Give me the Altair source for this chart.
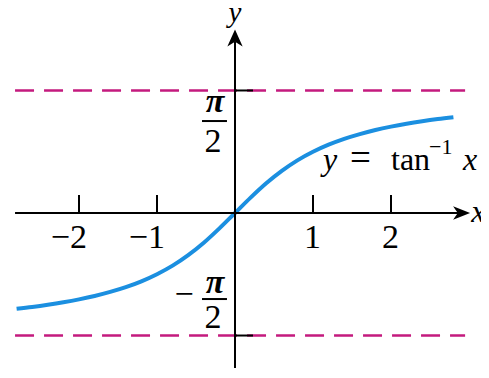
import math
import altair as alt
import pandas as pd

# ---- data ----
curve_x = [-2.8, -2.6, -2.4, -2.2, -2.0, -1.8, -1.6, -1.4, -1.2, -1.0, -0.8, -0.6, -0.4, -0.2,
           0.0, 0.2, 0.4, 0.6, 0.8, 1.0, 1.2, 1.4, 1.6, 1.8, 2.0, 2.2, 2.4, 2.6, 2.8]
curve_y = [-1.228, -1.204, -1.176, -1.144, -1.107, -1.064, -1.012, -0.951, -0.876, -0.785,
           -0.675, -0.540, -0.381, -0.197, 0.0, 0.197, 0.381, 0.540, 0.675, 0.785, 0.876,
           0.951, 1.012, 1.064, 1.107, 1.144, 1.176, 1.204, 1.228]
asymptote_y = [math.pi / 2, -math.pi / 2]
x_tick_values = [-2, -1, 1, 2]
x_tick_labels = ["\u22122", "\u22121", "1", "2"]
y_tick_values = [math.pi / 2, -math.pi / 2]

FONT = "Liberation Serif"
BLUE = "#1b8fe0"
MAGENTA = "#c41a7e"

# scale: 78 px per unit, origin at page (235, 213), chart origin at page (8, 8)
W, H = 473, 360
K, OX, OY = 78.0, 235.0, 213.0
x_dom = [(8 - OX) / K, (8 + W - OX) / K]
y_dom = [(OY - 8 - H) / K, (OY - 8) / K]

xs = alt.Scale(domain=x_dom, nice=False, zero=False)
ys = alt.Scale(domain=y_dom, nice=False, zero=False)


def X(f="x"):
    return alt.X(f"{f}:Q", scale=xs, axis=None)


def Y(f="y"):
    return alt.Y(f"{f}:Q", scale=ys, axis=None)


def txt(xv, yv, tv, size, style="normal", weight="normal", align="left", dx=0):
    return alt.Chart(pd.DataFrame({"x": xv, "y": yv, "t": tv})).mark_text(
        font=FONT, fontSize=size, fontStyle=style, fontWeight=weight, align=align,
        baseline="alphabetic", color="black", dx=dx
    ).encode(x=X(), y=Y(), text="t:N")


curve = alt.Chart(pd.DataFrame({"x": curve_x, "y": curve_y})).mark_line(
    color=BLUE, strokeWidth=4, interpolate="monotone"
).encode(x=X(), y=Y())

asym = alt.Chart(pd.DataFrame({"x": [-2.82, -2.82], "x2": [2.95, 2.95], "y": asymptote_y})).mark_rule(
    color=MAGENTA, strokeWidth=2.4, strokeDash=[19, 10]
).encode(x=X(), x2="x2:Q", y=Y())

# axes lines
x_axis = alt.Chart(pd.DataFrame({"x": [-2.82], "x2": [2.93], "y": [0]})).mark_rule(
    color="black", strokeWidth=2
).encode(x=X(), x2="x2:Q", y=Y())
y_axis = alt.Chart(pd.DataFrame({"x": [0], "y": [y_dom[0]], "y2": [2.2]})).mark_rule(
    color="black", strokeWidth=2
).encode(x=X(), y=Y(), y2="y2:Q")

# arrowheads
arrow_right = alt.Chart(pd.DataFrame({"x": [2.905], "y": [0]})).mark_point(
    shape="M1,0 L-1,-0.8 L-0.45,0 L-1,0.8 Z", filled=True, color="black", size=289, opacity=1, strokeWidth=0
).encode(x=X(), y=Y())
arrow_up = alt.Chart(pd.DataFrame({"x": [0], "y": [2.244]})).mark_point(
    shape="M0,-1 L-0.9,1 L0,0.45 L0.9,1 Z", filled=True, color="black", size=289, opacity=1, strokeWidth=0
).encode(x=X(), y=Y())

# ticks
x_ticks = alt.Chart(pd.DataFrame({"x": x_tick_values, "y": [0] * 4, "y2": [0.231] * 4})).mark_rule(
    color="black", strokeWidth=2
).encode(x=X(), y=Y(), y2="y2:Q")
y_ticks = alt.Chart(pd.DataFrame({"x": [0, 0], "x2": [0.231, 0.231], "y": y_tick_values})).mark_rule(
    color="black", strokeWidth=2
).encode(x=X(), x2="x2:Q", y=Y())

# tick labels
x_labels = txt(x_tick_values, [-0.449] * 4, x_tick_labels, 34, align="right", dx=8)
pi_labels = txt([-0.256, -0.256], [1.295, -1.026], ["\u03c0", "\u03c0"], 34, style="italic",
                weight="bold", align="center")
two_labels = txt([-0.282, -0.282], [0.782, -1.474], ["2", "2"], 34, align="center")
frac_bars = alt.Chart(pd.DataFrame({"x": [-0.423, -0.423], "x2": [-0.103, -0.103], "y": [1.179, -1.103]})).mark_rule(
    color="black", strokeWidth=2
).encode(x=X(), x2="x2:Q", y=Y())
neg_sign = txt([-0.654], [-1.179], ["\u2212"], 34, align="center")

# axis names
y_name = txt([0.0], [2.45], ["y"], 29, style="italic", align="center")
x_name = txt([3.03], [-0.115], ["x"], 32, style="italic")

# equation label y = tan^-1 x
eq_italic = txt([1.128, 2.923], [0.551, 0.551], ["y", "x"], 32, style="italic")
eq_equals = txt([1.474], [0.551], ["="], 37)
eq_upright = txt([2.0], [0.551], ["tan"], 32)
eq_sup = txt([2.487], [0.756], ["\u22121"], 22)

chart = alt.layer(
    asym, curve, x_axis, y_axis, arrow_right, arrow_up, x_ticks, y_ticks,
    x_labels, pi_labels, two_labels, frac_bars, neg_sign, y_name, x_name,
    eq_italic, eq_equals, eq_upright, eq_sup
).properties(
    width=W, height=H, autosize=alt.AutoSizeParams(type="none"), padding=0, background="white"
).configure_view(stroke=None)

chart.save("out.html", embed_options={"renderer": "svg", "actions": False})
